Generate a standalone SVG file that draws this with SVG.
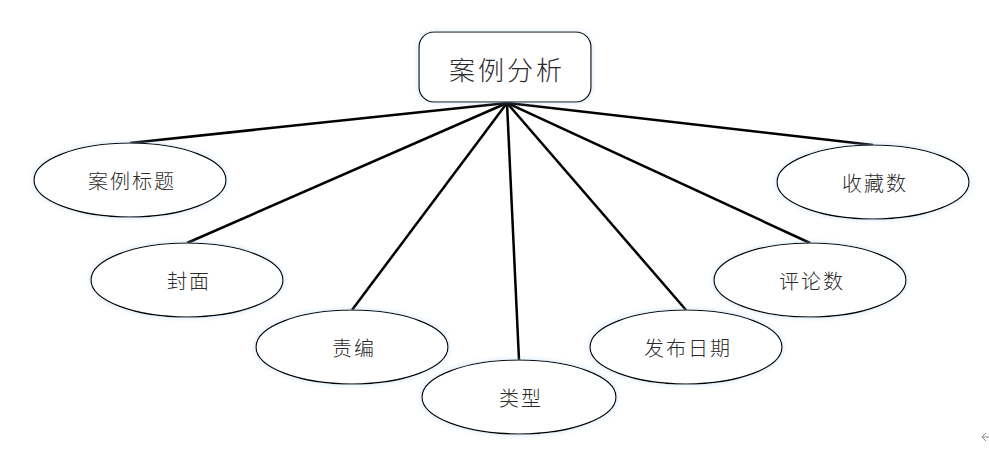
<svg xmlns="http://www.w3.org/2000/svg" width="989" height="457" viewBox="0 0 989 457">
<defs>
<filter id="glow" x="-20%" y="-30%" width="140%" height="160%">
<feGaussianBlur in="SourceAlpha" stdDeviation="2.5" result="b"/>
<feFlood flood-color="#9fc3ea" flood-opacity="0.5"/>
<feComposite in2="b" operator="in" result="s"/>
<feMerge><feMergeNode in="s"/><feMergeNode in="SourceGraphic"/></feMerge>
</filter>
</defs>
<style>
.n{fill:#fff;stroke:#000;stroke-width:1.2;filter:url(#glow)}
.t{font-family:"Noto Sans CJK SC","Liberation Sans",sans-serif;font-size:20px;font-weight:300;fill:#2a2a2a;text-anchor:middle;dominant-baseline:central;letter-spacing:2px}
.c line{stroke:#000;stroke-width:2.5}
</style>
<rect width="989" height="457" fill="#fff"/>
<g class="c" id="connectors">
<line x1="507" y1="103" x2="130" y2="143"/>
<line x1="507" y1="103" x2="187" y2="243"/>
<line x1="507" y1="103" x2="352" y2="310"/>
<line x1="507" y1="103" x2="519" y2="360"/>
<line x1="507" y1="103" x2="686" y2="310"/>
<line x1="507" y1="103" x2="810" y2="243"/>
<line x1="507" y1="103" x2="873" y2="145"/>
</g>
<g id="root"><rect class="n" x="419" y="32" width="172" height="70" rx="15"/><text class="t" x="507" y="68" style="font-size:26px;letter-spacing:3px">案例分析</text></g>
<g id="n1"><ellipse class="n" cx="130" cy="180" rx="96" ry="37"/><text class="t" x="132" y="180">案例标题</text></g>
<g id="n2"><ellipse class="n" cx="187" cy="280" rx="96" ry="37"/><text class="t" x="189" y="280">封面</text></g>
<g id="n3"><ellipse class="n" cx="352" cy="347" rx="96" ry="37"/><text class="t" x="354" y="347">责编</text></g>
<g id="n4"><ellipse class="n" cx="519" cy="397" rx="97" ry="37"/><text class="t" x="521" y="397">类型</text></g>
<g id="n5"><ellipse class="n" cx="686" cy="347" rx="96" ry="37"/><text class="t" x="688" y="347">发布日期</text></g>
<g id="n6"><ellipse class="n" cx="810" cy="280" rx="96" ry="37"/><text class="t" x="812" y="280">评论数</text></g>
<g id="n7"><ellipse class="n" cx="873" cy="182" rx="96" ry="37"/><text class="t" x="875" y="182">收藏数</text></g>
<polyline points="986,433 982,437 986,441" fill="none" stroke="#888" stroke-width="1"/>
<line x1="982" y1="437" x2="989" y2="437" stroke="#888" stroke-width="1"/>
</svg>
